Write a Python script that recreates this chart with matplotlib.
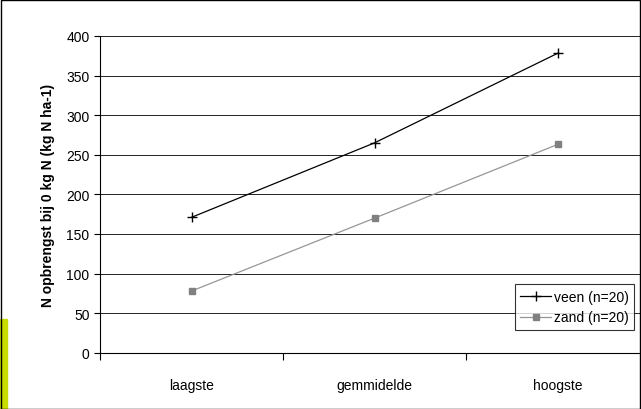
import matplotlib.pyplot as plt
import matplotlib.patches as mpatches

plt.rcParams['font.family'] = ['Liberation Sans', 'DejaVu Sans']

cats = ['laagste', 'gemmidelde', 'hoogste']
veen = [171, 265, 378]
zand = [78, 170, 263]

fig = plt.figure(figsize=(6.41, 4.10), dpi=100)
ax = fig.add_axes([0.156, 0.137, 0.844, 0.773])
x = [0.5, 1.5, 2.5]
ax.plot(x, veen, color='black', marker='+', markersize=7, lw=0.9, label='veen (n=20)')
ax.plot(x, zand, color='#969696', marker='s', markersize=5, lw=0.9,
        markerfacecolor='#808080', markeredgecolor='#808080', label='zand (n=20)')

ax.set_xlim(0, 2.956)
ax.set_ylim(0, 400)
ax.set_yticks(range(0, 401, 50))
ax.set_xticks([0, 1, 2])
ax.set_xticklabels([])
for xi, c in zip(x, cats):
    ax.text(xi, -0.1, c, transform=ax.get_xaxis_transform(), ha='center', va='center', fontsize=10)
ax.yaxis.grid(True, color='black', lw=0.6)
ax.set_axisbelow(True)
for s in ['top', 'right']:
    ax.spines[s].set_visible(False)
ax.tick_params(axis='x', length=5, direction='out')
ax.tick_params(axis='y', length=4, labelsize=10)
ax.set_ylabel('N opbrengst bij 0 kg N (kg N ha-1)', fontsize=10, fontweight='bold', labelpad=8)

leg = ax.legend(loc='lower right', bbox_to_anchor=(1.0, 0.05), frameon=True, fancybox=False,
                edgecolor='black', fontsize=10, handlelength=2.2, borderpad=0.4, handletextpad=0.2)
leg.get_frame().set_linewidth(0.8)

fig.patches.append(mpatches.Rectangle((0, 0), 0.011, 0.22, transform=fig.transFigure,
                                      color='#c8dc00', zorder=0))
fig.patches.append(mpatches.Rectangle((0.001, 0.001), 0.997, 0.997, transform=fig.transFigure,
                                      fill=False, edgecolor='black', lw=1))
fig.savefig('out.png', dpi=100)
